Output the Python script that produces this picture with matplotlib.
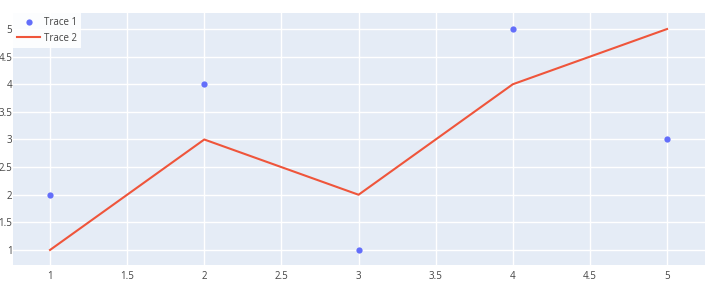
import matplotlib
matplotlib.use('Agg')
import matplotlib.pyplot as plt

x_vals = [1, 2, 3, 4, 5]
trace1_y = [2, 4, 1, 5, 3]
trace2_y = [1, 3, 2, 4, 5]
x_ticks = [1, 1.5, 2, 2.5, 3, 3.5, 4, 4.5, 5]
y_ticks = [1, 1.5, 2, 2.5, 3, 3.5, 4, 4.5, 5]

plt.rcParams['font.family'] = ['Open Sans', 'DejaVu Sans']

W, H = 716, 284
fig = plt.figure(figsize=(W / 100, H / 100), dpi=100)
left, top, right, bottom = 13, 13, 705, 265
ax = fig.add_axes([left / W, 1 - bottom / H, (right - left) / W, (bottom - top) / H])
ax.set_facecolor('#e5ecf6')

ax.plot(x_vals, trace1_y, 'o', color='#636efa', markersize=4.5, markeredgewidth=0,
        label='Trace 1', zorder=3)
ax.plot(x_vals, trace2_y, '-', color='#EF553B', linewidth=1.5, label='Trace 2', zorder=3)

ax.set_xlim(0.76, 5.246)
ax.set_ylim(0.728, 5.29)
ax.set_xticks(x_ticks)
ax.set_yticks(y_ticks)
ax.set_xticklabels([f'{t:g}' for t in x_ticks])
ax.set_yticklabels([f'{t:g}' for t in y_ticks])
ax.grid(True, color='white', linewidth=1)
ax.set_axisbelow(True)
for s in ax.spines.values():
    s.set_visible(False)
ax.tick_params(length=0, labelsize=7, colors='#444444')
ax.tick_params(axis='y', pad=0.5)
ax.tick_params(axis='x', pad=4)

leg = ax.legend(loc='upper left', bbox_to_anchor=(0, 1.0), frameon=True,
                fancybox=False, fontsize=7, borderpad=0.45, labelspacing=0.45,
                handlelength=2.3, handletextpad=0.4, borderaxespad=0, framealpha=0.9,
                edgecolor='white')
leg.get_frame().set_linewidth(0)
for t in leg.get_texts():
    t.set_color('#444444')

fig.savefig('out.png', dpi=100)
